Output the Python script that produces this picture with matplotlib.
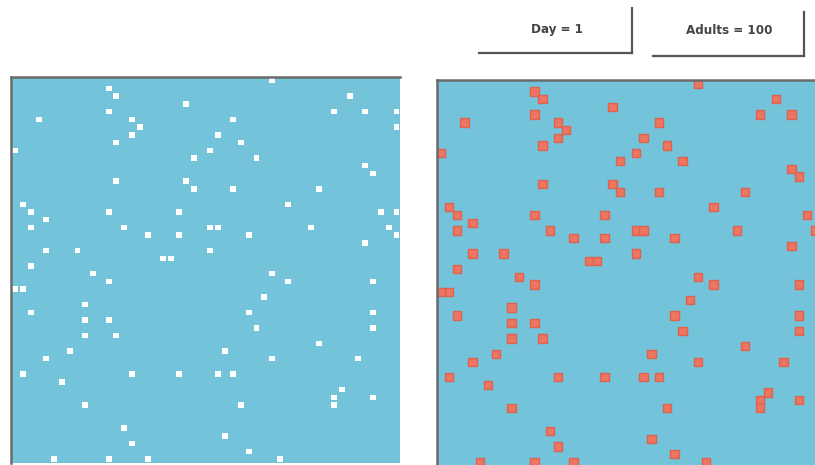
import matplotlib
matplotlib.use("Agg")
import matplotlib.pyplot as plt
from matplotlib.patches import Rectangle
from matplotlib.lines import Line2D

# positions des adultes sur la grille 50x50 (colonne, ligne)
adult_col = [12, 13, 22, 3, 12, 15, 16, 15, 13, 0, 23, 25, 13, 22, 23, 1, 2, 12, 21, 4,
             2, 14, 17, 21, 25, 26, 4, 8, 25, 19, 20, 2, 10, 33, 43, 41, 45, 49, 49, 28,
             26, 29, 31, 45, 46, 28, 39, 35, 47, 49, 30, 38, 48, 49, 45, 12, 0, 1, 2, 9,
             9, 12, 9, 13, 7, 4, 1, 6, 15, 21, 9, 14, 15, 5, 12, 17, 33, 35, 46, 32,
             30, 46, 31, 46, 39, 27, 33, 44, 26, 28, 42, 41, 41, 46, 29, 27, 30, 34]
adult_row = [1, 2, 3, 5, 4, 5, 6, 7, 8, 9, 10, 9, 13, 13, 14, 16, 17, 17, 17, 18,
             19, 19, 20, 20, 19, 19, 22, 22, 22, 23, 23, 24, 25, 0, 2, 4, 4, 4, 6, 5,
             7, 8, 10, 11, 12, 14, 14, 16, 17, 17, 20, 19, 19, 20, 21, 26, 27, 27, 30, 29,
             31, 31, 33, 33, 35, 36, 38, 39, 38, 38, 42, 45, 47, 49, 49, 49, 25, 26, 26, 28,
             30, 30, 32, 32, 34, 35, 36, 36, 38, 38, 40, 41, 42, 41, 42, 46, 48, 49]
grid_n = 50
day = 1
adults = 100

W, H = 815, 465
blue = '#73C4DA'
border = '#6b6b6b'


def fx(x):
    return x / W


def fy(y):
    return 1 - y / H


fig = plt.figure(figsize=(W / 100, H / 100), dpi=100)
fig.patch.set_facecolor('white')


def make_grid(left, top, cell_w, cell_h):
    ax = fig.add_axes([fx(left), fy(top + grid_n * cell_h),
                       grid_n * cell_w / W, grid_n * cell_h / H])
    ax.set_facecolor(blue)
    ax.set_xlim(0, grid_n)
    ax.set_ylim(grid_n, 0)
    ax.set_xticks([])
    ax.set_yticks([])
    for s in ['right', 'bottom']:
        ax.spines[s].set_visible(False)
    for s in ['top', 'left']:
        ax.spines[s].set_color(border)
        ax.spines[s].set_linewidth(1.8)
    return ax


# grille de gauche : points blancs
ax1 = make_grid(11.4, 76.9, 7.78, 7.72)
for c, r in zip(adult_col, adult_row):
    ax1.add_patch(Rectangle((c + 0.12, r + 0.15), 0.76, 0.7,
                            facecolor='white', edgecolor='none'))

# grille de droite : carrés rouges
ax2 = make_grid(437.4, 79.9, 7.78, 7.72)
for c, r in zip(adult_col, adult_row):
    ax2.add_patch(Rectangle((c - 0.04, r - 0.04), 1.08, 1.08,
                            facecolor='#EC7662', edgecolor='#DE6250', linewidth=1.0))

# boutons en haut
def button(x0, x1, y_bottom, y_top, label, tx, ty):
    fig.add_artist(Line2D([fx(x0), fx(x1)], [fy(y_bottom), fy(y_bottom)],
                          color='#555555', linewidth=1.6))
    fig.add_artist(Line2D([fx(x1), fx(x1)], [fy(y_top), fy(y_bottom)],
                          color='#555555', linewidth=1.6))
    fig.text(fx(tx), fy(ty), label, ha='center', va='center', fontsize=9.5,
             fontweight='bold', fontstretch='condensed', color='#444444',
             family=['DejaVu Sans'])


button(479, 632, 53, 8, 'Day = ' + str(day), 557, 30)
button(653, 804, 56, 12, 'Adults = ' + str(adults), 729, 31)

fig.savefig('out.png', dpi=100)
